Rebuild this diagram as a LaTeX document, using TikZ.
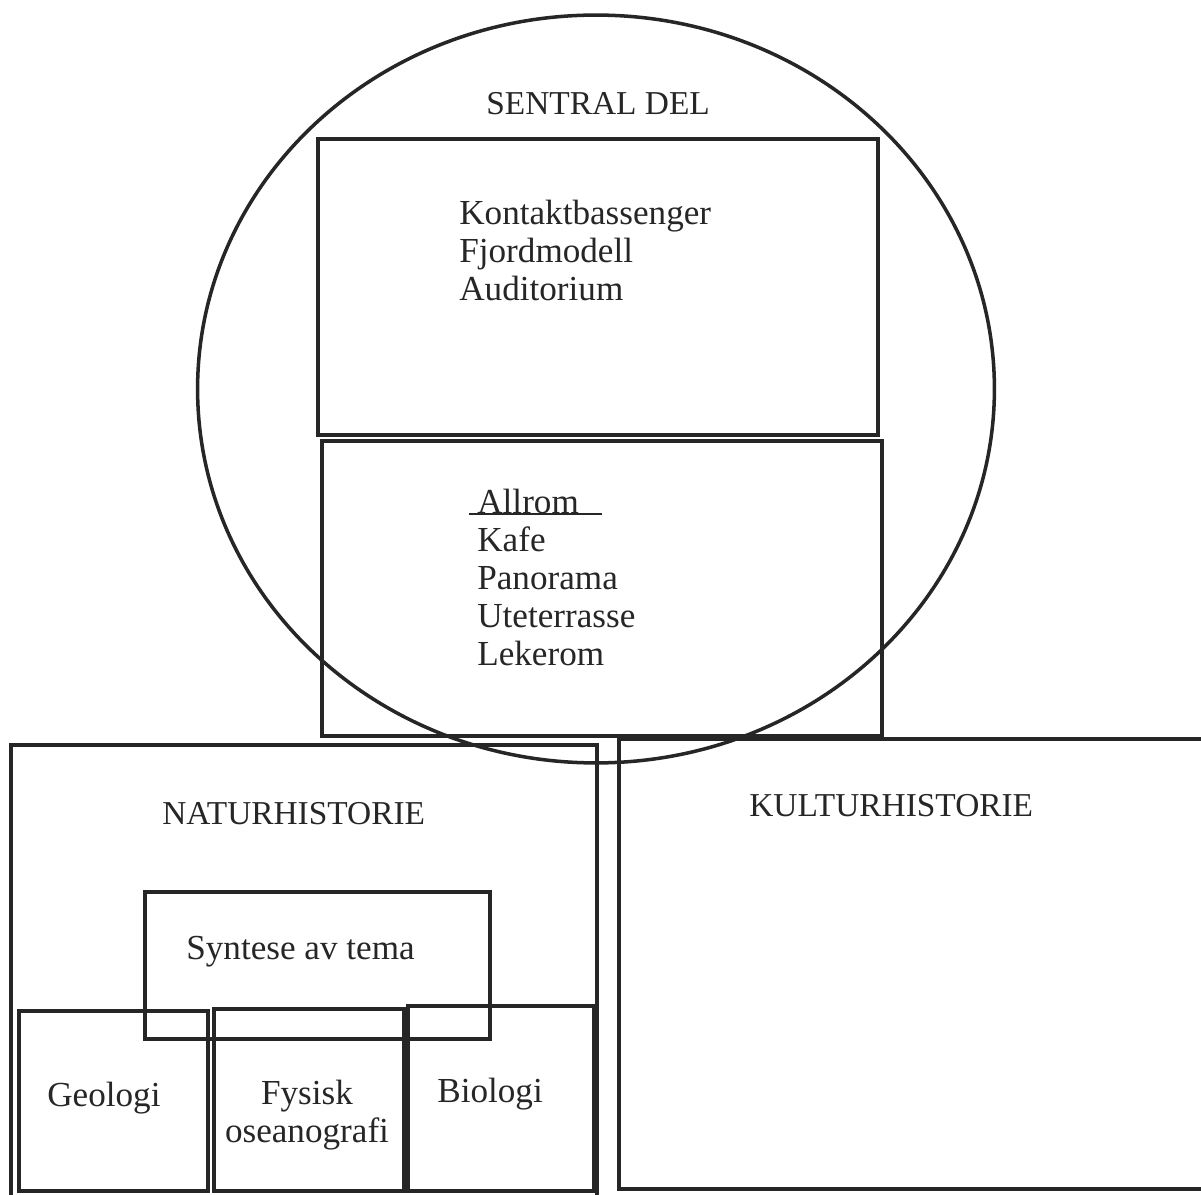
\documentclass[tikz,border=0pt]{standalone}
\usepackage{fontspec}
\setmainfont{Liberation Serif}
\usetikzlibrary{fit,shapes.geometric}
\definecolor{ink}{HTML}{262626}
\begin{document}
\begin{tikzpicture}[x=0.02cm,y=-0.02cm,
  box/.style={draw=ink, line width=2pt, inner sep=0pt},
  lbl/.style={text=ink, inner sep=0pt, font=\fontsize{20}{21.6}\selectfont},
  captxt/.style={text=ink, inner sep=0pt, font=\fontsize{19}{21.6}\selectfont}]
\useasboundingbox (0,0) rectangle (1201,1195);
\fill[white] (0,0) rectangle (1201,1195);
\clip (0,0) rectangle (1201,1195);

% boxes
\node[box, fit={(318,139) (878,435)}] (top) {};
\node[box, fit={(322,441) (882,736)}] (mid) {};
\node[box, fit={(11,745) (597,1205)}] (natur) {};
\node[box, fit={(619,739) (1215,1189)}] (kultur) {};
\node[box, fit={(145,892) (490,1039)}] (syntese) {};
\node[box, fit={(19,1011) (208,1191)}] (geo) {};
\node[box, fit={(214,1009) (404,1191)}] (fys) {};
\node[box, fit={(408,1006) (594,1191)}] (bio) {};
% central ellipse
\node[draw=ink, line width=2pt, ellipse, inner sep=0pt,
      minimum width=15.94cm, minimum height=14.96cm] (sentral) at (596,389) {};

% texts
\node[captxt, anchor=base west] (sentraltxt) at (486,115) {SENTRAL DEL};
\node[lbl, anchor=north west, align=left] (toplist) at (459,200)
  {Kontaktbassenger\\Fjordmodell\\Auditorium};
\node[lbl, anchor=north west, align=left] (midlist) at (477,489)
  {Allrom\\Kafe\\Panorama\\Uteterrasse\\Lekerom};
\draw[ink, line width=1.6pt] (469,514) -- (602,514);
\node[captxt, anchor=base west] (naturtxt) at (162,825) {NATURHISTORIE};
\node[captxt, anchor=base west] (kulturtxt) at (749,817) {KULTURHISTORIE};
\node[lbl, anchor=base west] (syntesetxt) at (186,960) {Syntese av tema};
\node[lbl, anchor=base west] (geotxt) at (47,1106) {Geologi};
\node[lbl, align=center, anchor=north] (fystxt) at (307,1080) {Fysisk\\oseanografi};
\node[lbl, anchor=base west] (biotxt) at (437,1102) {Biologi};
\end{tikzpicture}
\end{document}
